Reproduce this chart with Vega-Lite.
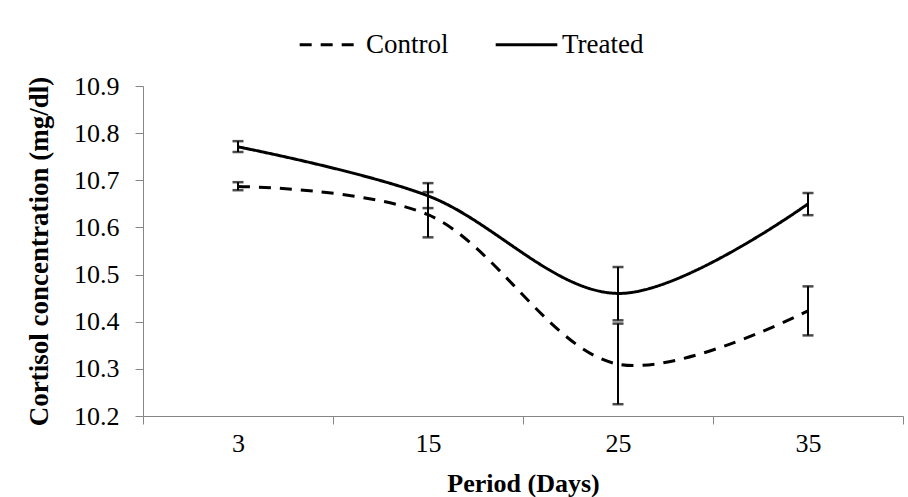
{
  "$schema": "https://vega.github.io/schema/vega-lite/v6.json",
  "width": 760,
  "height": 330,
  "autosize": {"type": "none"},
  "padding": {"left": 143, "top": 86, "right": 5, "bottom": 81},
  "background": "white",
  "config": {
    "view": {"stroke": null},
    "font": "Liberation Serif",
    "axis": {"domainColor": "#868686", "tickColor": "#868686", "grid": false, "labelColor": "black", "titleColor": "black"}
  },
  "data": {
    "values": [
      {"Period": 3, "Group": "Control", "Mean": 10.687, "Lower": 10.679, "Upper": 10.696},
      {"Period": 3, "Group": "Treated", "Mean": 10.771, "Lower": 10.760, "Upper": 10.783},
      {"Period": 15, "Group": "Control", "Mean": 10.627, "Lower": 10.579, "Upper": 10.675},
      {"Period": 15, "Group": "Treated", "Mean": 10.667, "Lower": 10.641, "Upper": 10.694},
      {"Period": 25, "Group": "Control", "Mean": 10.31, "Lower": 10.225, "Upper": 10.396},
      {"Period": 25, "Group": "Treated", "Mean": 10.46, "Lower": 10.403, "Upper": 10.516},
      {"Period": 35, "Group": "Control", "Mean": 10.423, "Lower": 10.371, "Upper": 10.475},
      {"Period": 35, "Group": "Treated", "Mean": 10.65, "Lower": 10.626, "Upper": 10.673}
    ]
  },
  "encoding": {
    "x": {
      "field": "Period", "type": "ordinal",
      "scale": {"type": "band", "paddingInner": 0, "paddingOuter": 0},
      "axis": {"title": "Period (Days)", "labelAngle": 0, "tickBand": "extent", "tickSize": 8, "labelFont": "Liberation Serif", "labelFontSize": 26, "labelPadding": 6, "titleFont": "Liberation Serif", "titleFontSize": 26, "titleFontWeight": "bold", "titlePadding": 14}
    }
  },
  "layer": [
    {
      "mark": {"type": "rule", "color": "black", "strokeWidth": 2},
      "encoding": {
        "y": {"field": "Lower", "type": "quantitative"},
        "y2": {"field": "Upper"}
      }
    },
    {
      "mark": {"type": "tick", "color": "black", "thickness": 2.5, "size": 11},
      "encoding": {"y": {"field": "Lower", "type": "quantitative"}}
    },
    {
      "mark": {"type": "tick", "color": "black", "thickness": 2.5, "size": 11},
      "encoding": {"y": {"field": "Upper", "type": "quantitative"}}
    },
    {
      "mark": {"type": "line", "interpolate": "catmull-rom", "strokeWidth": 3, "color": "black"},
      "encoding": {
        "y": {
          "field": "Mean", "type": "quantitative",
          "scale": {"domain": [10.2, 10.9], "zero": false, "nice": false},
          "axis": {"title": "Cortisol concentration (mg/dl)", "values": [10.2, 10.3, 10.4, 10.5, 10.6, 10.7, 10.8, 10.9], "format": ".1f", "tickSize": 8, "labelFont": "Liberation Serif", "labelFontSize": 26, "labelPadding": 16, "titleFont": "Liberation Serif", "titleFontSize": 27, "titleFontWeight": "bold", "titlePadding": 20}
        },
        "strokeDash": {
          "field": "Group", "type": "nominal",
          "scale": {"domain": ["Control", "Treated"], "range": [[12, 9], [1, 0]]},
          "legend": {"title": null, "orient": "none", "direction": "horizontal", "legendX": 155, "legendY": -74, "labelFontSize": 27, "labelFont": "Liberation Serif", "labelColor": "black", "symbolType": "stroke", "symbolSize": 3800, "symbolStrokeWidth": 3, "symbolStrokeColor": "black", "columnPadding": 40, "labelOffset": 3}
        }
      }
    }
  ]
}
